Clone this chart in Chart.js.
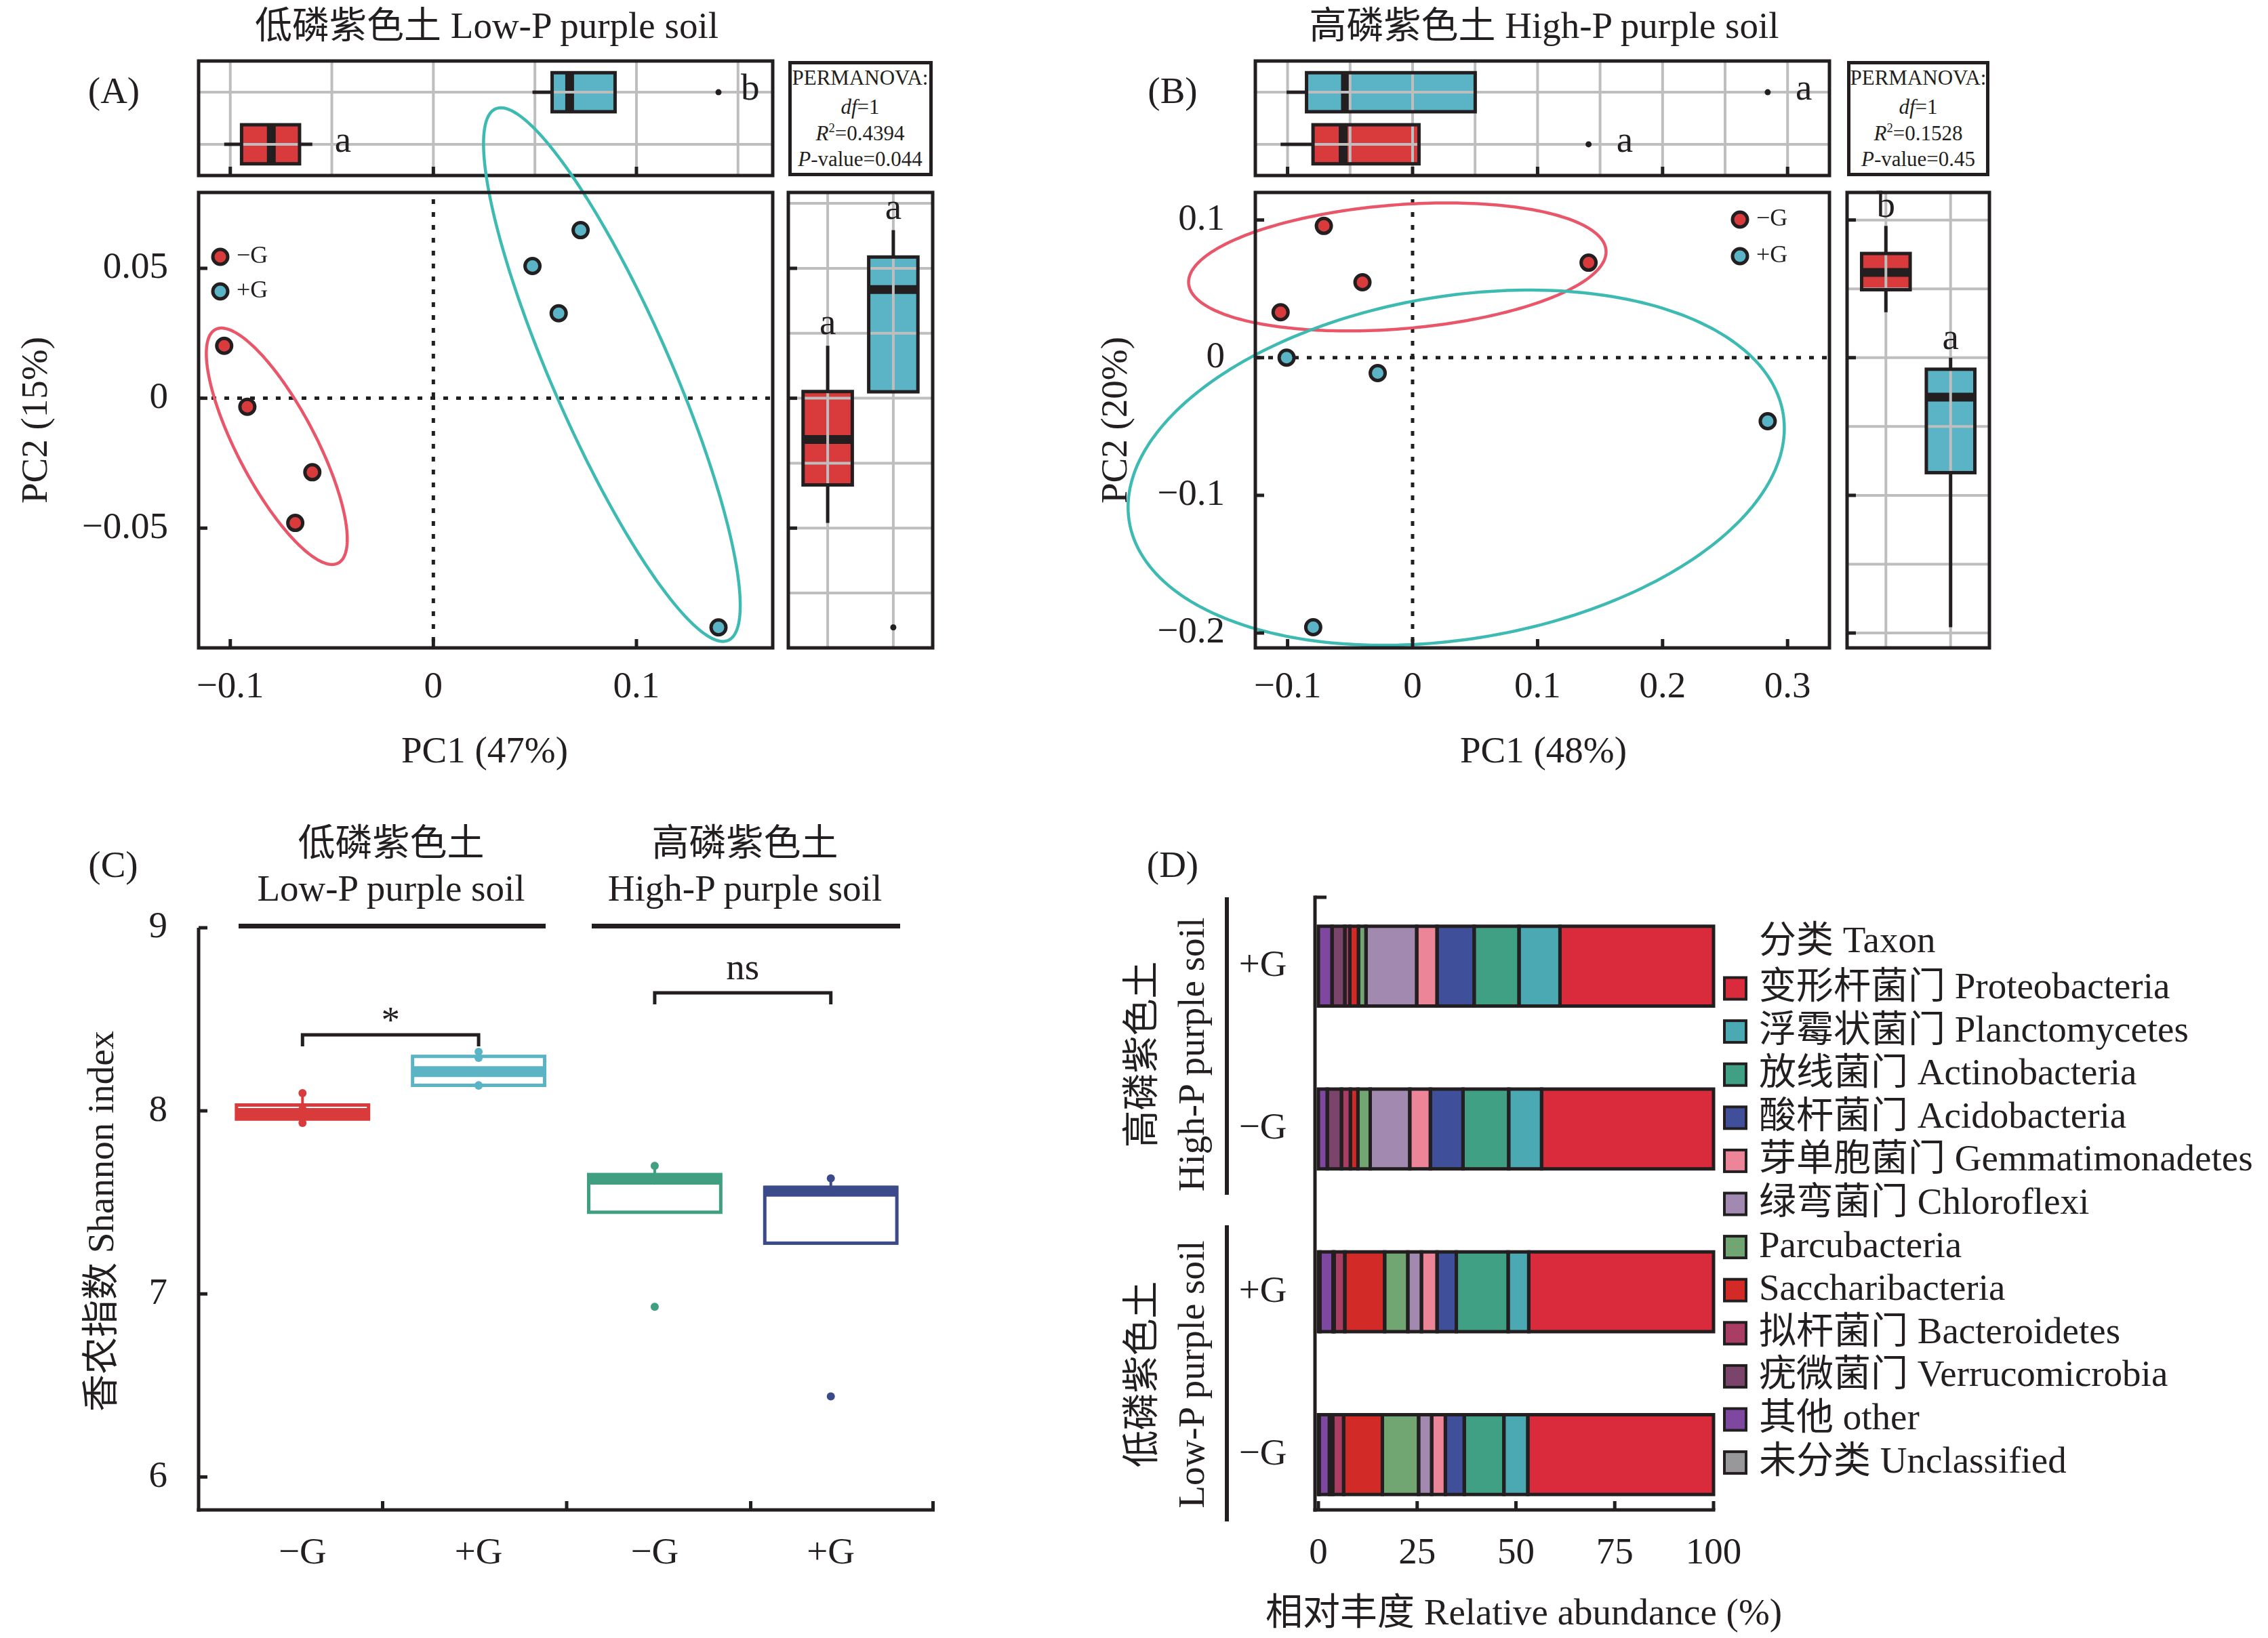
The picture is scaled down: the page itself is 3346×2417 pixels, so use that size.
<!DOCTYPE html>
<html lang="zh">
<head>
<meta charset="utf-8">
<title>PCoA, Shannon index and phylum composition</title>
<script src="https://cdn.jsdelivr.net/npm/chart.js@4.4.1/dist/chart.umd.min.js"></script>
<style>
  html, body { margin: 0; padding: 0; background: #fff; }
  body { position: relative; width: 3346px; height: 2417px; overflow: hidden;
         font-family: "Liberation Serif", "Noto Sans CJK SC", serif; color: #231f20; }
  canvas { position: absolute; }
  .t { position: absolute; white-space: nowrap; line-height: 1; font-size: 55px; transform: translate(-50%, -50%); }
  .r { transform: translate(-50%, -50%) rotate(-90deg); }
  .s { font-size: 31px; }
  .frame { position: absolute; box-sizing: border-box; border: 5px solid #231f20; }
  .rule { position: absolute; background: #231f20; }
  sup { font-size: 0.6em; vertical-align: 0.6em; line-height: 0; }
</style>
</head>
<body>
<!-- titles and panel letters -->
<div class="t" style="left:718px;top:37px">低磷紫色土 Low-P purple soil</div>
<div class="t" style="left:2278px;top:37px">高磷紫色土 High-P purple soil</div>
<div class="t" style="left:168px;top:133px">(A)</div>
<div class="t" style="left:1730px;top:133px">(B)</div>
<div class="t" style="left:167px;top:1275px">(C)</div>
<div class="t" style="left:1730px;top:1275px">(D)</div>

<!-- PERMANOVA boxes -->
<div class="frame" style="left:1163px;top:90px;width:213px;height:170px"></div>
<div class="t s" style="left:1269px;top:114px">PERMANOVA:</div>
<div class="t s" style="left:1269px;top:157px"><i>df</i>=1</div>
<div class="t s" style="left:1269px;top:196px"><i>R</i><sup>2</sup>=0.4394</div>
<div class="t s" style="left:1269px;top:234px"><i>P</i>-value=0.044</div>
<div class="frame" style="left:2725px;top:90px;width:210px;height:170px"></div>
<div class="t s" style="left:2830px;top:114px">PERMANOVA:</div>
<div class="t s" style="left:2830px;top:157px"><i>df</i>=1</div>
<div class="t s" style="left:2830px;top:196px"><i>R</i><sup>2</sup>=0.1528</div>
<div class="t s" style="left:2830px;top:234px"><i>P</i>-value=0.45</div>

<!-- axis titles A / B -->
<div class="t r" style="left:50px;top:620px">PC2 (15%)</div>
<div class="t" style="left:715px;top:1106px">PC1 (47%)</div>
<div class="t r" style="left:1643px;top:620px">PC2 (20%)</div>
<div class="t" style="left:2277px;top:1106px">PC1 (48%)</div>

<!-- panel C headings -->
<div class="t" style="left:577px;top:1243px">低磷紫色土</div>
<div class="t" style="left:577px;top:1310px">Low-P purple soil</div>
<div class="t" style="left:1099px;top:1243px">高磷紫色土</div>
<div class="t" style="left:1099px;top:1310px">High-P purple soil</div>
<div class="rule" style="left:352px;top:1363px;width:453px;height:7px"></div>
<div class="rule" style="left:873px;top:1363px;width:455px;height:7px"></div>
<div class="t r" style="left:148px;top:1802px">香农指数 Shannon index</div>

<!-- panel D headings -->
<div class="t r" style="left:1683px;top:1556px">高磷紫色土</div>
<div class="t r" style="left:1757px;top:1556px">High-P purple soil</div>
<div class="t r" style="left:1683px;top:2028px">低磷紫色土</div>
<div class="t r" style="left:1757px;top:2028px">Low-P purple soil</div>
<div class="rule" style="left:1807px;top:1324px;width:6px;height:439px"></div>
<div class="rule" style="left:1807px;top:1808px;width:6px;height:437px"></div>
<div class="t" style="left:2248px;top:2378px">相对丰度 Relative abundance (%)</div>

<script>
// ---------------- data ----------------
// (A) low-P purple soil: PCoA scores per sample
const lowMinusPC1 = [-0.1030, -0.0916, -0.0596, -0.0680];
const lowMinusPC2 = [0.0202, -0.0033, -0.0285, -0.0480];
const lowPlusPC1 = [0.0725, 0.0488, 0.0617, 0.1404];
const lowPlusPC2 = [0.0647, 0.0509, 0.0327, -0.0882];
// ellipses (−G, +G): centre, half extent along PC1/PC2, correlation
const lowEllCentre = [[-0.0771, -0.0185], [0.0879, 0.0091]];
const lowEllHalf = [[0.0347, 0.0455], [0.0632, 0.1027]];
const lowEllRho = [-0.785, -0.865];
const lowLettersPC1 = ['a', 'b'];
const lowLettersPC2 = ['a', 'a'];
const lowRangePC1 = [-0.1156, 0.1671];
const lowRangePC2 = [-0.0961, 0.0792];
const lowTicksPC1 = [-0.1, 0, 0.1];
const lowTicksPC2 = [-0.05, 0, 0.05];
const lowGridPC1 = [-0.1, -0.05, 0, 0.05, 0.1, 0.15];
const lowGridPC2 = [-0.075, -0.05, -0.025, 0, 0.025, 0.05, 0.075];

// (B) high-P purple soil
const highMinusPC1 = [-0.0710, -0.0401, -0.1056, 0.1408];
const highMinusPC2 = [0.0957, 0.0548, 0.0330, 0.0690];
const highPlusPC1 = [-0.1008, -0.0279, 0.2841, -0.0795];
const highPlusPC2 = [0.0000, -0.0112, -0.0461, -0.1958];
const highEllCentre = [[-0.0122, 0.0659], [0.0349, -0.0799]];
const highEllHalf = [[0.1670, 0.0465], [0.2625, 0.1290]];
const highEllRho = [0.237, 0.222];
const highLettersPC1 = ['a', 'a'];
const highLettersPC2 = ['b', 'a'];
const highRangePC1 = [-0.1258, 0.3335];
const highRangePC2 = [-0.2108, 0.1200];
const highTicksPC1 = [-0.1, 0, 0.1, 0.2, 0.3];
const highTicksPC2 = [-0.2, -0.1, 0, 0.1];
const highGridPC1 = [-0.1, -0.05, 0, 0.05, 0.1, 0.15, 0.2, 0.25, 0.3];
const highGridPC2 = [-0.2, -0.15, -0.1, -0.05, 0, 0.05, 0.1];

// (C) Shannon index
const shannonLabels = ['\u2212G', '+G', '\u2212G', '+G'];
const shannonLowMinus = [7.934, 7.962, 8.010, 8.097];
const shannonLowPlus = [8.137, 8.140, 8.289, 8.323];
const shannonHighMinus = [6.930, 7.618, 7.636, 7.700];
const shannonHighPlus = [6.440, 7.556, 7.566, 7.631];
const shannonTicks = [6, 7, 8, 9];
const shannonRange = [5.82, 9.0];
const sigPairs = [[1, 2], [3, 4]];
const sigLevel = [8.415, 8.645];
const sigText = ['*', 'ns'];

// (D) relative abundance (%), rows: High-P +G, High-P −G, Low-P +G, Low-P −G
const taxaRows = ['High-P +G', 'High-P \u2212G', 'Low-P +G', 'Low-P \u2212G'];
const taxaRowLabels = ['+G', '\u2212G', '+G', '\u2212G'];
const taxaNames = ['未分类 Unclassified', '其他 other', '疣微菌门 Verrucomicrobia', '拟杆菌门 Bacteroidetes',
  'Saccharibacteria', 'Parcubacteria', '绿弯菌门 Chloroflexi', '芽单胞菌门 Gemmatimonadetes',
  '酸杆菌门 Acidobacteria', '放线菌门 Actinobacteria', '浮霉状菌门 Planctomycetes', '变形杆菌门 Proteobacteria'];
const abUnclassified = [0, 0, 0.4, 0.2];
const abOther = [3.46, 2.26, 3.30, 2.60];
const abVerrucomicrobia = [3.24, 3.59, 0.30, 0.85];
const abBacteroidetes = [1.27, 2.26, 2.70, 2.75];
const abSaccharibacteria = [2.19, 1.90, 10.08, 9.80];
const abParcubacteria = [1.90, 3.11, 5.86, 9.17];
const abChloroflexi = [12.83, 10.01, 3.45, 3.31];
const abGemmatimonadetes = [5.15, 5.22, 3.95, 3.46];
const abAcidobacteria = [9.38, 8.25, 4.87, 4.79];
const abActinobacteria = [11.36, 11.57, 13.12, 10.02];
const abPlanctomycetes = [10.36, 8.32, 5.21, 6.06];
const abProteobacteria = [38.86, 43.51, 46.76, 46.99];
const abundanceTicks = [0, 25, 50, 75, 100];

// ---------------- styles ----------------
const INK = '#231f20', GRID = '#bebebe';
const RED = '#d93b3c', BLUE = '#5ab4c6';
const RING_RED = '#e9566a', RING_TEAL = '#3dbab1';
const SHANNON_COLORS = ['#d93b3c', '#5ab4c6', '#3f9f80', '#3b4b8a'];
const TAXA_COLORS = ['#98989a', '#7e48a0', '#7b446b', '#aa3d63', '#d22a27', '#71a673',
  '#a189b0', '#ec8598', '#3f4f9a', '#40a084', '#4aa9b3', '#d92b3c'];
const FONT = '"Liberation Serif", "Noto Sans CJK SC", serif';

Chart.defaults.animation = false;
Chart.defaults.font.family = FONT;

// ---------------- helpers ----------------
function quantile(s, p) {
  const h = (s.length - 1) * p, i = Math.floor(h);
  return i + 1 < s.length ? s[i] + (h - i) * (s[i + 1] - s[i]) : s[i];
}
function boxStats(vals) {
  const s = [...vals].sort((a, b) => a - b);
  const q1 = quantile(s, 0.25), med = quantile(s, 0.5), q3 = quantile(s, 0.75);
  const f = 1.5 * (q3 - q1);
  const inside = s.filter(v => v >= q1 - f && v <= q3 + f);
  return { q1, med, q3, lo: Math.min(q1, ...inside), hi: Math.max(q3, ...inside),
           out: s.filter(v => v < q1 - f || v > q3 + f) };
}
const fmt = v => (v < 0 ? '\u2212' : '') + Math.abs(v);

function addCanvas(cv) {
  const c = document.createElement('canvas');
  c.width = cv.w; c.height = cv.h;
  Object.assign(c.style, { left: cv.x + 'px', top: cv.y + 'px', width: cv.w + 'px', height: cv.h + 'px' });
  document.body.appendChild(c);
  return c;
}
function padFor(cv, plot) {
  return { left: plot[0] - cv.x, top: plot[1] - cv.y, right: cv.x + cv.w - plot[2], bottom: cv.y + cv.h - plot[3] };
}
function baseOpts(pad, xScale, yScale) {
  const fix = s => Object.assign({ offset: false, grid: { offset: false } }, s);
  return { responsive: false, animation: false, devicePixelRatio: 1, layout: { padding: pad },
    plugins: { legend: { display: false }, tooltip: { enabled: false } },
    scales: { x: fix(xScale), y: fix(yScale) } };
}
// index scale whose ticks sit on the group positions (bar width is taken from tick spacing)
function groupScale(min, max, n) {
  const cats = Array.from({ length: n }, (_, i) => i + 1);
  return { type: 'linear', display: false, min, max,
           afterBuildTicks: s => { s.ticks = cats.map(v => ({ value: v })); } };
}
function seg(ctx, x1, y1, x2, y2, w, col, dash) {
  ctx.save(); ctx.beginPath(); ctx.lineWidth = w; ctx.strokeStyle = col;
  if (dash) ctx.setLineDash(dash);
  ctx.moveTo(x1, y1); ctx.lineTo(x2, y2); ctx.stroke(); ctx.restore();
}
function label(ctx, s, x, y, size, align, base) {
  ctx.save(); ctx.font = size + 'px ' + FONT; ctx.fillStyle = INK;
  ctx.textAlign = align || 'center'; ctx.textBaseline = base || 'middle';
  ctx.fillText(s, x, y); ctx.restore();
}
function frame(ctx, a) {
  ctx.save(); ctx.lineWidth = 5; ctx.strokeStyle = INK; ctx.strokeRect(a.left, a.top, a.width, a.height); ctx.restore();
}
function rectOf(el) {
  const p = el.getProps(['x', 'y', 'base', 'width', 'height', 'horizontal'], true);
  return p.horizontal
    ? { l: Math.min(p.x, p.base), t: p.y - p.height / 2, w: Math.abs(p.x - p.base), h: p.height }
    : { l: p.x - p.width / 2, t: Math.min(p.y, p.base), w: p.width, h: Math.abs(p.y - p.base) };
}
function drawEllipse(ctx, xs, ys, c, h, rho, color) {
  const k = Math.sqrt(1 - rho * rho);
  ctx.save(); ctx.beginPath();
  for (let i = 0; i <= 240; i++) {
    const t = i / 240 * 2 * Math.PI;
    const px = xs.getPixelForValue(c[0] + h[0] * Math.cos(t));
    const py = ys.getPixelForValue(c[1] + h[1] * (rho * Math.cos(t) + k * Math.sin(t)));
    if (i) ctx.lineTo(px, py); else ctx.moveTo(px, py);
  }
  ctx.closePath(); ctx.lineWidth = 4.5; ctx.strokeStyle = color; ctx.stroke(); ctx.restore();
}

// ---------- marginal box plots (PC1 on top, PC2 on the right) ----------
function sideBoxChart(cv, plot, horizontal, groups, valRange, grid, ticks, letters, letterGap) {
  const stats = groups.map(boxStats);
  const boxData = stats.map((s, i) => horizontal ? { x: [s.q1, s.q3], y: i + 1 } : { x: i + 1, y: [s.q1, s.q3] });
  const outData = [];
  stats.forEach((s, i) => s.out.forEach(v => outData.push(horizontal ? { x: v, y: i + 1 } : { x: i + 1, y: v })));
  const catScale = groupScale(0.4, 2.6, 2);
  const valScale = { type: 'linear', display: false, min: valRange[0], max: valRange[1] };
  const axes = chart => horizontal ? [chart.scales.x, chart.scales.y] : [chart.scales.y, chart.scales.x];

  const deco = {
    id: 'sideDeco',
    afterDatasetDraw(chart, args) {
      if (args.index !== 0) return;
      const ctx = chart.ctx, a = chart.chartArea, [vs, cs] = axes(chart);
      const boxes = chart.getDatasetMeta(0).data.map(rectOf);
      stats.forEach((s, i) => {
        const b = boxes[i], m = vs.getPixelForValue(s.med);
        if (horizontal) seg(ctx, m, b.t, m, b.t + b.h, 13, INK); else seg(ctx, b.l, m, b.l + b.w, m, 13, INK);
      });
      grid.forEach(v => {
        const p = vs.getPixelForValue(v);
        if (horizontal) seg(ctx, p, a.top, p, a.bottom, 4, GRID); else seg(ctx, a.left, p, a.right, p, 4, GRID);
      });
      [1, 2].forEach(c => {
        const p = cs.getPixelForValue(c);
        if (horizontal) seg(ctx, a.left, p, a.right, p, 4, GRID); else seg(ctx, p, a.top, p, a.bottom, 4, GRID);
      });
      stats.forEach((s, i) => {
        const b = boxes[i], c = cs.getPixelForValue(i + 1);
        const [lo, q1, q3, hi] = [s.lo, s.q1, s.q3, s.hi].map(v => vs.getPixelForValue(v));
        if (horizontal) { seg(ctx, lo, c, q1, c, 5, INK); seg(ctx, q3, c, hi, c, 5, INK); }
        else { seg(ctx, c, lo, c, q1, 5, INK); seg(ctx, c, q3, c, hi, 5, INK); }
        ctx.save(); ctx.lineWidth = 5; ctx.strokeStyle = INK; ctx.strokeRect(b.l, b.t, b.w, b.h); ctx.restore();
      });
    },
    afterDraw(chart) {
      const ctx = chart.ctx, a = chart.chartArea, [vs, cs] = axes(chart);
      frame(ctx, a);
      ticks.forEach(v => {
        const p = vs.getPixelForValue(v);
        if (horizontal) seg(ctx, p, a.bottom, p, a.bottom - 13, 5, INK); else seg(ctx, a.left, p, a.left + 13, p, 5, INK);
      });
      stats.forEach((s, i) => {
        const far = Math.max(s.hi, ...s.out), c = cs.getPixelForValue(i + 1);
        if (horizontal) label(ctx, letters[i], vs.getPixelForValue(far) + letterGap, c + 11, 55, 'left', 'alphabetic');
        else label(ctx, letters[i], c, vs.getPixelForValue(far) - letterGap, 55, 'center', 'alphabetic');
      });
    }
  };
  new Chart(addCanvas(cv), {
    type: 'bar',
    data: { datasets: [
      { type: 'bar', indexAxis: horizontal ? 'y' : 'x', data: boxData, backgroundColor: [RED, BLUE],
        borderWidth: 0, barPercentage: 0.75, categoryPercentage: 1, order: 1 },
      { type: 'scatter', data: outData, pointRadius: 4.5, backgroundColor: INK, borderWidth: 0, order: 0 }
    ] },
    options: baseOpts(padFor(cv, plot), horizontal ? valScale : catScale, horizontal ? catScale : valScale),
    plugins: [deco]
  });
}

// ---------- PCoA scatter with ellipses ----------
function scatterChart(cv, plot, xr, yr, groups, ell, ticksX, ticksY, legend) {
  const deco = {
    id: 'scatterDeco',
    beforeDatasetsDraw(chart) {
      const ctx = chart.ctx, a = chart.chartArea, xs = chart.scales.x, ys = chart.scales.y;
      const x0 = xs.getPixelForValue(0), y0 = ys.getPixelForValue(0);
      seg(ctx, x0, a.top + 10, x0, a.bottom, 5, INK, [7, 12]);
      seg(ctx, a.left, y0, a.right, y0, 5, INK, [7, 12]);
      ell.centre.forEach((c, i) => drawEllipse(ctx, xs, ys, c, ell.half[i], ell.rho[i], ell.colors[i]));
    },
    afterDraw(chart) {
      const ctx = chart.ctx, a = chart.chartArea, xs = chart.scales.x, ys = chart.scales.y;
      frame(ctx, a);
      ticksX.forEach(v => {
        const p = xs.getPixelForValue(v);
        seg(ctx, p, a.bottom, p, a.bottom - 13, 5, INK);
        label(ctx, fmt(v), p, a.bottom + 59, 55);
      });
      ticksY.forEach(v => {
        const p = ys.getPixelForValue(v);
        seg(ctx, a.left, p, a.left + 13, p, 5, INK);
        label(ctx, fmt(v), a.left - 45, p, 55, 'right');
      });
      chart.data.datasets.forEach((d, i) => {
        const x = a.left + legend.x, y = a.top + legend.y + i * legend.dy;
        ctx.save(); ctx.beginPath(); ctx.arc(x, y, 11, 0, 2 * Math.PI);
        ctx.fillStyle = d.backgroundColor; ctx.fill();
        ctx.lineWidth = 5; ctx.strokeStyle = INK; ctx.stroke(); ctx.restore();
        label(ctx, d.label, x + 24, y, 36, 'left');
      });
    }
  };
  new Chart(addCanvas(cv), {
    type: 'scatter',
    data: { datasets: groups.map(g => ({
      label: g.label, data: g.xs.map((x, i) => ({ x, y: g.ys[i] })),
      backgroundColor: g.color, borderColor: INK, borderWidth: 5, pointRadius: 11 })) },
    options: baseOpts(padFor(cv, plot),
      { type: 'linear', display: false, min: xr[0], max: xr[1] },
      { type: 'linear', display: false, min: yr[0], max: yr[1] }),
    plugins: [deco]
  });
}

// ---------------- panel A ----------------
sideBoxChart({ x: 270, y: 80, w: 890, h: 190 }, [293, 90, 1140, 259], true,
  [lowMinusPC1, lowPlusPC1], lowRangePC1, lowGridPC1, lowTicksPC1, lowLettersPC1, 33);
sideBoxChart({ x: 1154, y: 270, w: 235, h: 700 }, [1163, 284, 1376, 956], false,
  [lowMinusPC2, lowPlusPC2], lowRangePC2, lowGridPC2, lowTicksPC2, lowLettersPC2, 17);
scatterChart({ x: 0, y: 140, w: 1160, h: 1010 }, [293, 284, 1140, 956], lowRangePC1, lowRangePC2,
  [{ label: '\u2212G', xs: lowMinusPC1, ys: lowMinusPC2, color: RED },
   { label: '+G', xs: lowPlusPC1, ys: lowPlusPC2, color: BLUE }],
  { centre: lowEllCentre, half: lowEllHalf, rho: lowEllRho, colors: [RING_RED, RING_TEAL] },
  lowTicksPC1, lowTicksPC2, { x: 32, y: 95, dy: 51 });

// ---------------- panel B ----------------
sideBoxChart({ x: 1834, y: 80, w: 880, h: 190 }, [1852, 90, 2699, 259], true,
  [highMinusPC1, highPlusPC1], highRangePC1, highGridPC1, highTicksPC1, highLettersPC1, 41);
sideBoxChart({ x: 2715, y: 270, w: 235, h: 700 }, [2725, 284, 2935, 956], false,
  [highMinusPC2, highPlusPC2], highRangePC2, highGridPC2, highTicksPC2, highLettersPC2, 13);
scatterChart({ x: 1594, y: 140, w: 1122, h: 1010 }, [1852, 284, 2699, 956], highRangePC1, highRangePC2,
  [{ label: '\u2212G', xs: highMinusPC1, ys: highMinusPC2, color: RED },
   { label: '+G', xs: highPlusPC1, ys: highPlusPC2, color: BLUE }],
  { centre: highEllCentre, half: highEllHalf, rho: highEllRho, colors: [RING_RED, RING_TEAL] },
  highTicksPC1, highTicksPC2, { x: 715, y: 40, dy: 54 });

// ---------------- panel C ----------------
(function () {
  const cv = { x: 0, y: 1180, w: 1400, h: 1237 };
  const groups = [shannonLowMinus, shannonLowPlus, shannonHighMinus, shannonHighPlus];
  const stats = groups.map(boxStats);
  const pts = [], ptCol = [];
  groups.forEach((vals, i) => vals.forEach(v => { pts.push({ x: i + 1, y: v }); ptCol.push(SHANNON_COLORS[i]); }));

  const deco = {
    id: 'shannonDeco',
    afterDatasetDraw(chart, args) {
      if (args.index !== 0) return;
      const ctx = chart.ctx, ys = chart.scales.y, xs = chart.scales.x;
      chart.getDatasetMeta(0).data.map(rectOf).forEach((b, i) => {
        const s = stats[i], col = SHANNON_COLORS[i], c = xs.getPixelForValue(i + 1);
        seg(ctx, c, ys.getPixelForValue(s.q3), c, ys.getPixelForValue(s.hi), 4, col);
        seg(ctx, c, ys.getPixelForValue(s.q1), c, ys.getPixelForValue(s.lo), 4, col);
        ctx.save(); ctx.lineWidth = 5; ctx.strokeStyle = col; ctx.strokeRect(b.l, b.t, b.w, b.h); ctx.restore();
        const m = ys.getPixelForValue(s.med);
        seg(ctx, b.l, m, b.l + b.w, m, 16, col);
      });
    },
    afterDraw(chart) {
      const ctx = chart.ctx, a = chart.chartArea, xs = chart.scales.x, ys = chart.scales.y;
      seg(ctx, a.left, a.top, a.left, a.bottom + 2.5, 5, INK);
      seg(ctx, a.left - 2.5, a.bottom, a.right, a.bottom, 5, INK);
      shannonTicks.forEach(v => {
        const p = ys.getPixelForValue(v);
        seg(ctx, a.left, p, a.left + 13, p, 5, INK);
        label(ctx, String(v), a.left - 46, p, 55, 'right');
      });
      [1, 2, 3, 4].forEach(k => {
        const p = a.left + a.width * k / 4 - (k === 4 ? 2.5 : 0);
        seg(ctx, p, a.bottom, p, a.bottom - 13, 5, INK);
      });
      shannonLabels.forEach((s, i) => label(ctx, s, xs.getPixelForValue(i + 1), a.bottom + 65, 55));
      sigPairs.forEach((pr, i) => {
        const x1 = xs.getPixelForValue(pr[0]), x2 = xs.getPixelForValue(pr[1]), y = ys.getPixelForValue(sigLevel[i]);
        ctx.save(); ctx.beginPath(); ctx.lineWidth = 5; ctx.strokeStyle = INK;
        ctx.moveTo(x1, y + 17); ctx.lineTo(x1, y); ctx.lineTo(x2, y); ctx.lineTo(x2, y + 17); ctx.stroke();
        ctx.font = '55px ' + FONT; ctx.fillStyle = INK; ctx.textAlign = 'center'; ctx.textBaseline = 'alphabetic';
        const m = ctx.measureText(sigText[i]);
        ctx.fillText(sigText[i], (x1 + x2) / 2, y - 19 - m.actualBoundingBoxDescent);
        ctx.restore();
      });
    }
  };
  new Chart(addCanvas(cv), {
    type: 'bar',
    data: { datasets: [
      { type: 'bar', data: stats.map((s, i) => ({ x: i + 1, y: [s.q1, s.q3] })), backgroundColor: '#ffffff',
        borderWidth: 0, barPercentage: 0.75, categoryPercentage: 1, order: 1 },
      { type: 'scatter', data: pts, backgroundColor: ptCol, pointRadius: 6, borderWidth: 0, order: 0 }
    ] },
    options: baseOpts(padFor(cv, [293, 1369, 1379, 2228]),
      groupScale(0.41, 4.59, 4),
      { type: 'linear', display: false, min: shannonRange[0], max: shannonRange[1] }),
    plugins: [deco]
  });
})();

// ---------------- panel D ----------------
(function () {
  const cv = { x: 1600, y: 1180, w: 1746, h: 1237 };
  const values = [abUnclassified, abOther, abVerrucomicrobia, abBacteroidetes, abSaccharibacteria,
    abParcubacteria, abChloroflexi, abGemmatimonadetes, abAcidobacteria, abActinobacteria,
    abPlanctomycetes, abProteobacteria];
  const deco = {
    id: 'taxaDeco',
    afterDatasetsDraw(chart) {
      const ctx = chart.ctx;
      ctx.save(); ctx.lineWidth = 5; ctx.strokeStyle = INK;
      chart.data.datasets.forEach((d, i) => chart.getDatasetMeta(i).data.forEach(el => {
        const b = rectOf(el);
        if (b.w > 0.5) ctx.strokeRect(b.l, b.t, b.w, b.h);
      }));
      ctx.restore();
    },
    afterDraw(chart) {
      const ctx = chart.ctx, a = chart.chartArea, xs = chart.scales.x, ys = chart.scales.y;
      const axisX = xs.getPixelForValue(0) - 5, axisTop = a.top + 18.5, axisY = a.bottom - 38.5;
      seg(ctx, axisX, axisTop - 2.5, axisX, axisY + 2.5, 5, INK);
      seg(ctx, axisX, axisTop, axisX + 17, axisTop, 5, INK);
      seg(ctx, axisX - 2.5, axisY, xs.getPixelForValue(100) + 2.5, axisY, 5, INK);
      abundanceTicks.forEach(v => {
        const p = xs.getPixelForValue(v);
        seg(ctx, p, axisY, p, axisY - 13, 5, INK);
        label(ctx, String(v), p, axisY + 65, 55);
      });
      taxaRowLabels.forEach((s, i) => label(ctx, s, a.left - 82, ys.getPixelForValue(i), 55));
      // legend, Proteobacteria first
      label(ctx, '分类 Taxon', a.right + 67, a.top + 85.5, 55, 'left');
      const order = chart.data.datasets.map((d, i) => i).reverse();
      order.forEach((di, k) => {
        const d = chart.data.datasets[di], y = a.top + 153 + k * 63.6;
        ctx.save(); ctx.fillStyle = d.backgroundColor; ctx.fillRect(a.right + 16, y - 16, 32, 32);
        ctx.lineWidth = 4; ctx.strokeStyle = INK; ctx.strokeRect(a.right + 16, y - 16, 32, 32); ctx.restore();
        label(ctx, d.label, a.right + 67, y, 55, 'left');
      });
    }
  };
  new Chart(addCanvas(cv), {
    type: 'bar',
    data: {
      labels: taxaRows,
      datasets: taxaNames.map((name, i) => ({ label: name, data: values[i], backgroundColor: TAXA_COLORS[i],
        borderWidth: 0, barPercentage: 0.49, categoryPercentage: 1 }))
    },
    options: Object.assign(baseOpts(padFor(cv, [1945, 1305.5, 2528, 2266.5]),
      { type: 'linear', display: false, min: 0, max: 100, stacked: true },
      { type: 'category', display: false, stacked: true, offset: true, grid: { offset: true } }), { indexAxis: 'y' }),
    plugins: [deco]
  });
})();
</script>
</body>
</html>
